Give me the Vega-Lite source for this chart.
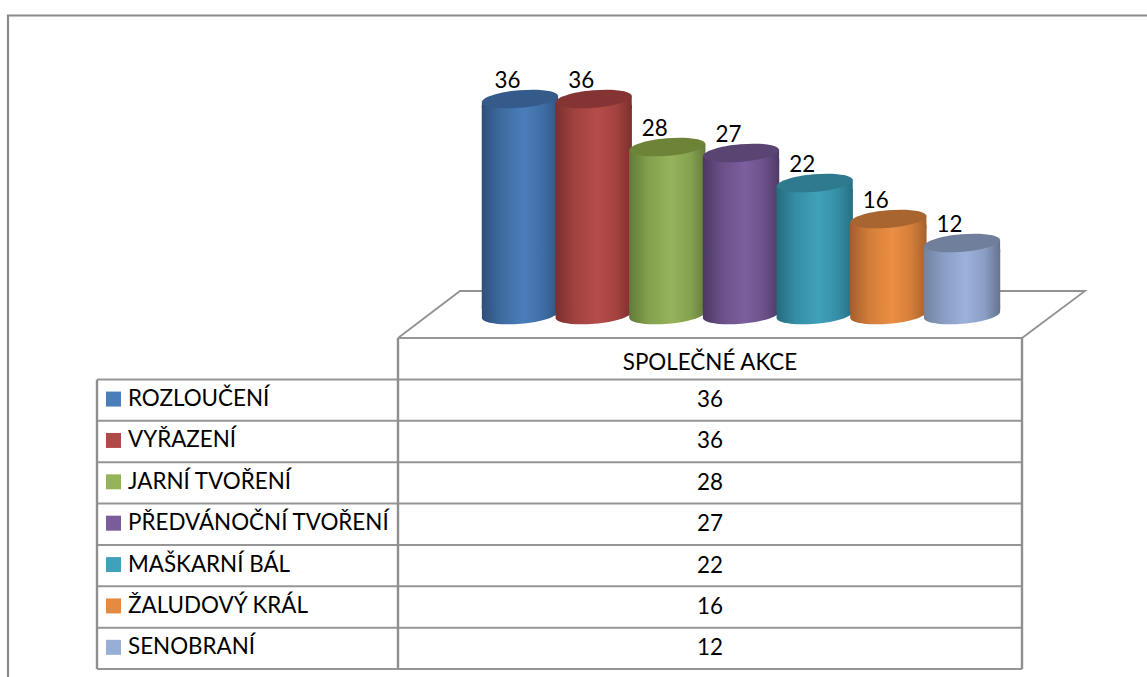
{
"$schema":"https://vega.github.io/schema/vega-lite/v6.json",
"width":1147,"height":677,"padding":0,"autosize":{"type":"none"},
"background":"white",
"config":{"view":{"stroke":null},"text":{"font":"Lato","fontSize":22.4,"fill":"#000000"}},
"datasets":{
"akce":[
{"akce":"ROZLOUČENÍ","pocet":36},
{"akce":"VYŘAZENÍ","pocet":36},
{"akce":"JARNÍ TVOŘENÍ","pocet":28},
{"akce":"PŘEDVÁNOČNÍ TVOŘENÍ","pocet":27},
{"akce":"MAŠKARNÍ BÁL","pocet":22},
{"akce":"ŽALUDOVÝ KRÁL","pocet":16},
{"akce":"SENOBRANÍ","pocet":12}],
"vodorovne":[{"radek":0,"od":1,"do":2},{"radek":1,"od":0,"do":2},{"radek":2,"od":0,"do":2},{"radek":3,"od":0,"do":2},{"radek":4,"od":0,"do":2},{"radek":5,"od":0,"do":2},{"radek":6,"od":0,"do":2},{"radek":7,"od":0,"do":2},{"radek":8,"od":0,"do":2}],
"svisle":[{"sloupec":0,"od":1,"do":8},{"sloupec":1,"od":0,"do":8},{"sloupec":2,"od":0,"do":8}],
"podlaha":[{"poradi":0,"a":0,"b":0},{"poradi":1,"a":1,"b":1},{"poradi":2,"a":3,"b":1},{"poradi":3,"a":2,"b":0},{"poradi":4,"a":0,"b":0}],
"ram":[{"poradi":0,"a":1,"b":0},{"poradi":1,"a":0,"b":0},{"poradi":2,"a":0,"b":1}]
},
"resolve":{"scale":{"x":"independent","y":"independent","fill":"independent","color":"independent"},"axis":{"x":"independent","y":"independent"}},
"layer":[
{"data":{"name":"ram"},"mark":{"type":"line","stroke":"#8a8a8a","strokeWidth":2.2,"clip":false},
"encoding":{"order":{"field":"poradi","type":"quantitative"},
"x":{"field":"a","type":"quantitative","axis":null,"scale":{"domain":[0,1],"range":[8,1147],"nice":false,"zero":false}},
"y":{"field":"b","type":"quantitative","axis":null,"scale":{"domain":[0,1],"range":[15.5,677],"nice":false,"zero":false}}}},
{"data":{"name":"podlaha"},"mark":{"type":"line","stroke":"#929292","strokeWidth":1.8},
"encoding":{"order":{"field":"poradi","type":"quantitative"},
"x":{"field":"a","type":"quantitative","axis":null,"scale":{"domain":[0,1,2,3],"range":[398,460,1022,1085],"nice":false,"zero":false}},
"y":{"field":"b","type":"quantitative","axis":null,"scale":{"domain":[0,1],"range":[338,291],"nice":false,"zero":false}}}},
{"data":{"name":"vodorovne"},"mark":{"type":"rule","stroke":"#969696","strokeWidth":2},
"encoding":{
"x":{"field":"od","type":"quantitative","axis":null,"scale":{"domain":[0,1,2],"range":[97,398,1022],"nice":false,"zero":false}},
"x2":{"field":"do"},
"y":{"field":"radek","type":"quantitative","axis":null,"scale":{"domain":[0,8],"range":[338,669],"nice":false,"zero":false}}}},
{"data":{"name":"svisle"},"mark":{"type":"rule","stroke":"#8f8f8f","strokeWidth":2.4},
"encoding":{
"x":{"field":"sloupec","type":"quantitative","axis":null,"scale":{"domain":[0,1,2],"range":[97,398,1022],"nice":false,"zero":false}},
"y":{"field":"od","type":"quantitative","axis":null,"scale":{"domain":[0,8],"range":[338,669],"nice":false,"zero":false}},
"y2":{"field":"do"}}},
{"data":{"name":"akce"},"transform":[{"filter":"datum.akce==='ROZLOUČENÍ'"}],
"encoding":{"x":{"field":"akce","type":"nominal","axis":null,"scale":{"type":"point","padding":0,"domain":["ROZLOUČENÍ","VYŘAZENÍ","JARNÍ TVOŘENÍ","PŘEDVÁNOČNÍ TVOŘENÍ","MAŠKARNÍ BÁL","ŽALUDOVÝ KRÁL","SENOBRANÍ"],"range":[520,962]}},"y":{"field":"pocet","type":"quantitative","axis":null,"stack":null,"scale":{"domain":[0,36],"range":[315,99],"nice":false,"zero":false}}},
"layer":[
{"mark":{"type":"bar","size":76.5,"yOffset":6,"y2Offset":-6,"fill":{"gradient":"linear","x1":0,"x2":1,"y1":0,"y2":0,"stops":[{"offset":0,"color":"#2c4f7b"},{"offset":0.25,"color":"#3e6b9f"},{"offset":0.55,"color":"#4a7ebb"},{"offset":0.8,"color":"#3f6ea5"},{"offset":1,"color":"#2f5684"}]}},"encoding":{"y2":{"datum":0}}},
{"mark":{"type":"point","filled":true,"opacity":1,"size":5852,"shape":"M-0.996 0.087 A1 0.235 -5 0 0 0.996 -0.087 L0.996 -0.25 L-0.996 -0.25 Z","fill":{"gradient":"linear","x1":0,"x2":1,"y1":0,"y2":0,"stops":[{"offset":0,"color":"#2c4f7b"},{"offset":0.25,"color":"#3e6b9f"},{"offset":0.55,"color":"#4a7ebb"},{"offset":0.8,"color":"#3f6ea5"},{"offset":1,"color":"#2f5684"}]}},"encoding":{"y":{"datum":0,"type":"quantitative","axis":null}}},
{"mark":{"type":"point","filled":true,"opacity":1,"size":5852,"shape":"M-0.996 0.087 L0.996 -0.087 L0.996 0.25 L-0.996 0.25 Z","fill":{"gradient":"linear","x1":0,"x2":1,"y1":0,"y2":0,"stops":[{"offset":0,"color":"#2c4f7b"},{"offset":0.25,"color":"#3e6b9f"},{"offset":0.55,"color":"#4a7ebb"},{"offset":0.8,"color":"#3f6ea5"},{"offset":1,"color":"#2f5684"}]}}},
{"mark":{"type":"point","filled":true,"opacity":1,"size":5852,"shape":"M-0.996 0.087 A1 0.235 -5 0 1 0.996 -0.087 A1 0.235 -5 0 1 -0.996 0.087 Z","fill":"#355b8a"}}
]},
{"data":{"name":"akce"},"transform":[{"filter":"datum.akce==='VYŘAZENÍ'"}],
"encoding":{"x":{"field":"akce","type":"nominal","axis":null,"scale":{"type":"point","padding":0,"domain":["ROZLOUČENÍ","VYŘAZENÍ","JARNÍ TVOŘENÍ","PŘEDVÁNOČNÍ TVOŘENÍ","MAŠKARNÍ BÁL","ŽALUDOVÝ KRÁL","SENOBRANÍ"],"range":[520,962]}},"y":{"field":"pocet","type":"quantitative","axis":null,"stack":null,"scale":{"domain":[0,36],"range":[315,99],"nice":false,"zero":false}}},
"layer":[
{"mark":{"type":"bar","size":76.5,"yOffset":6,"y2Offset":-6,"fill":{"gradient":"linear","x1":0,"x2":1,"y1":0,"y2":0,"stops":[{"offset":0,"color":"#7a2f2e"},{"offset":0.25,"color":"#a04240"},{"offset":0.55,"color":"#b54c4a"},{"offset":0.8,"color":"#a34240"},{"offset":1,"color":"#7b302f"}]}},"encoding":{"y2":{"datum":0}}},
{"mark":{"type":"point","filled":true,"opacity":1,"size":5852,"shape":"M-0.996 0.087 A1 0.235 -5 0 0 0.996 -0.087 L0.996 -0.25 L-0.996 -0.25 Z","fill":{"gradient":"linear","x1":0,"x2":1,"y1":0,"y2":0,"stops":[{"offset":0,"color":"#7a2f2e"},{"offset":0.25,"color":"#a04240"},{"offset":0.55,"color":"#b54c4a"},{"offset":0.8,"color":"#a34240"},{"offset":1,"color":"#7b302f"}]}},"encoding":{"y":{"datum":0,"type":"quantitative","axis":null}}},
{"mark":{"type":"point","filled":true,"opacity":1,"size":5852,"shape":"M-0.996 0.087 L0.996 -0.087 L0.996 0.25 L-0.996 0.25 Z","fill":{"gradient":"linear","x1":0,"x2":1,"y1":0,"y2":0,"stops":[{"offset":0,"color":"#7a2f2e"},{"offset":0.25,"color":"#a04240"},{"offset":0.55,"color":"#b54c4a"},{"offset":0.8,"color":"#a34240"},{"offset":1,"color":"#7b302f"}]}}},
{"mark":{"type":"point","filled":true,"opacity":1,"size":5852,"shape":"M-0.996 0.087 A1 0.235 -5 0 1 0.996 -0.087 A1 0.235 -5 0 1 -0.996 0.087 Z","fill":"#843433"}}
]},
{"data":{"name":"akce"},"transform":[{"filter":"datum.akce==='JARNÍ TVOŘENÍ'"}],
"encoding":{"x":{"field":"akce","type":"nominal","axis":null,"scale":{"type":"point","padding":0,"domain":["ROZLOUČENÍ","VYŘAZENÍ","JARNÍ TVOŘENÍ","PŘEDVÁNOČNÍ TVOŘENÍ","MAŠKARNÍ BÁL","ŽALUDOVÝ KRÁL","SENOBRANÍ"],"range":[520,962]}},"y":{"field":"pocet","type":"quantitative","axis":null,"stack":null,"scale":{"domain":[0,36],"range":[315,99],"nice":false,"zero":false}}},
"layer":[
{"mark":{"type":"bar","size":76.5,"yOffset":6,"y2Offset":-6,"fill":{"gradient":"linear","x1":0,"x2":1,"y1":0,"y2":0,"stops":[{"offset":0,"color":"#627a38"},{"offset":0.25,"color":"#83a04e"},{"offset":0.55,"color":"#95b45a"},{"offset":0.8,"color":"#85a250"},{"offset":1,"color":"#647c3a"}]}},"encoding":{"y2":{"datum":0}}},
{"mark":{"type":"point","filled":true,"opacity":1,"size":5852,"shape":"M-0.996 0.087 A1 0.235 -5 0 0 0.996 -0.087 L0.996 -0.25 L-0.996 -0.25 Z","fill":{"gradient":"linear","x1":0,"x2":1,"y1":0,"y2":0,"stops":[{"offset":0,"color":"#627a38"},{"offset":0.25,"color":"#83a04e"},{"offset":0.55,"color":"#95b45a"},{"offset":0.8,"color":"#85a250"},{"offset":1,"color":"#647c3a"}]}},"encoding":{"y":{"datum":0,"type":"quantitative","axis":null}}},
{"mark":{"type":"point","filled":true,"opacity":1,"size":5852,"shape":"M-0.996 0.087 L0.996 -0.087 L0.996 0.25 L-0.996 0.25 Z","fill":{"gradient":"linear","x1":0,"x2":1,"y1":0,"y2":0,"stops":[{"offset":0,"color":"#627a38"},{"offset":0.25,"color":"#83a04e"},{"offset":0.55,"color":"#95b45a"},{"offset":0.8,"color":"#85a250"},{"offset":1,"color":"#647c3a"}]}}},
{"mark":{"type":"point","filled":true,"opacity":1,"size":5852,"shape":"M-0.996 0.087 A1 0.235 -5 0 1 0.996 -0.087 A1 0.235 -5 0 1 -0.996 0.087 Z","fill":"#6c8338"}}
]},
{"data":{"name":"akce"},"transform":[{"filter":"datum.akce==='PŘEDVÁNOČNÍ TVOŘENÍ'"}],
"encoding":{"x":{"field":"akce","type":"nominal","axis":null,"scale":{"type":"point","padding":0,"domain":["ROZLOUČENÍ","VYŘAZENÍ","JARNÍ TVOŘENÍ","PŘEDVÁNOČNÍ TVOŘENÍ","MAŠKARNÍ BÁL","ŽALUDOVÝ KRÁL","SENOBRANÍ"],"range":[520,962]}},"y":{"field":"pocet","type":"quantitative","axis":null,"stack":null,"scale":{"domain":[0,36],"range":[315,99],"nice":false,"zero":false}}},
"layer":[
{"mark":{"type":"bar","size":76.5,"yOffset":6,"y2Offset":-6,"fill":{"gradient":"linear","x1":0,"x2":1,"y1":0,"y2":0,"stops":[{"offset":0,"color":"#4b3863"},{"offset":0.25,"color":"#6b5088"},{"offset":0.55,"color":"#7c5f9e"},{"offset":0.8,"color":"#6c5189"},{"offset":1,"color":"#4e3a67"}]}},"encoding":{"y2":{"datum":0}}},
{"mark":{"type":"point","filled":true,"opacity":1,"size":5852,"shape":"M-0.996 0.087 A1 0.235 -5 0 0 0.996 -0.087 L0.996 -0.25 L-0.996 -0.25 Z","fill":{"gradient":"linear","x1":0,"x2":1,"y1":0,"y2":0,"stops":[{"offset":0,"color":"#4b3863"},{"offset":0.25,"color":"#6b5088"},{"offset":0.55,"color":"#7c5f9e"},{"offset":0.8,"color":"#6c5189"},{"offset":1,"color":"#4e3a67"}]}},"encoding":{"y":{"datum":0,"type":"quantitative","axis":null}}},
{"mark":{"type":"point","filled":true,"opacity":1,"size":5852,"shape":"M-0.996 0.087 L0.996 -0.087 L0.996 0.25 L-0.996 0.25 Z","fill":{"gradient":"linear","x1":0,"x2":1,"y1":0,"y2":0,"stops":[{"offset":0,"color":"#4b3863"},{"offset":0.25,"color":"#6b5088"},{"offset":0.55,"color":"#7c5f9e"},{"offset":0.8,"color":"#6c5189"},{"offset":1,"color":"#4e3a67"}]}}},
{"mark":{"type":"point","filled":true,"opacity":1,"size":5852,"shape":"M-0.996 0.087 A1 0.235 -5 0 1 0.996 -0.087 A1 0.235 -5 0 1 -0.996 0.087 Z","fill":"#5a4472"}}
]},
{"data":{"name":"akce"},"transform":[{"filter":"datum.akce==='MAŠKARNÍ BÁL'"}],
"encoding":{"x":{"field":"akce","type":"nominal","axis":null,"scale":{"type":"point","padding":0,"domain":["ROZLOUČENÍ","VYŘAZENÍ","JARNÍ TVOŘENÍ","PŘEDVÁNOČNÍ TVOŘENÍ","MAŠKARNÍ BÁL","ŽALUDOVÝ KRÁL","SENOBRANÍ"],"range":[520,962]}},"y":{"field":"pocet","type":"quantitative","axis":null,"stack":null,"scale":{"domain":[0,36],"range":[315,99],"nice":false,"zero":false}}},
"layer":[
{"mark":{"type":"bar","size":76.5,"yOffset":6,"y2Offset":-6,"fill":{"gradient":"linear","x1":0,"x2":1,"y1":0,"y2":0,"stops":[{"offset":0,"color":"#256b7d"},{"offset":0.25,"color":"#348ea5"},{"offset":0.55,"color":"#40a1ba"},{"offset":0.8,"color":"#348fa6"},{"offset":1,"color":"#276f81"}]}},"encoding":{"y2":{"datum":0}}},
{"mark":{"type":"point","filled":true,"opacity":1,"size":5852,"shape":"M-0.996 0.087 A1 0.235 -5 0 0 0.996 -0.087 L0.996 -0.25 L-0.996 -0.25 Z","fill":{"gradient":"linear","x1":0,"x2":1,"y1":0,"y2":0,"stops":[{"offset":0,"color":"#256b7d"},{"offset":0.25,"color":"#348ea5"},{"offset":0.55,"color":"#40a1ba"},{"offset":0.8,"color":"#348fa6"},{"offset":1,"color":"#276f81"}]}},"encoding":{"y":{"datum":0,"type":"quantitative","axis":null}}},
{"mark":{"type":"point","filled":true,"opacity":1,"size":5852,"shape":"M-0.996 0.087 L0.996 -0.087 L0.996 0.25 L-0.996 0.25 Z","fill":{"gradient":"linear","x1":0,"x2":1,"y1":0,"y2":0,"stops":[{"offset":0,"color":"#256b7d"},{"offset":0.25,"color":"#348ea5"},{"offset":0.55,"color":"#40a1ba"},{"offset":0.8,"color":"#348fa6"},{"offset":1,"color":"#276f81"}]}}},
{"mark":{"type":"point","filled":true,"opacity":1,"size":5852,"shape":"M-0.996 0.087 A1 0.235 -5 0 1 0.996 -0.087 A1 0.235 -5 0 1 -0.996 0.087 Z","fill":"#2f7a8c"}}
]},
{"data":{"name":"akce"},"transform":[{"filter":"datum.akce==='ŽALUDOVÝ KRÁL'"}],
"encoding":{"x":{"field":"akce","type":"nominal","axis":null,"scale":{"type":"point","padding":0,"domain":["ROZLOUČENÍ","VYŘAZENÍ","JARNÍ TVOŘENÍ","PŘEDVÁNOČNÍ TVOŘENÍ","MAŠKARNÍ BÁL","ŽALUDOVÝ KRÁL","SENOBRANÍ"],"range":[520,962]}},"y":{"field":"pocet","type":"quantitative","axis":null,"stack":null,"scale":{"domain":[0,36],"range":[315,99],"nice":false,"zero":false}}},
"layer":[
{"mark":{"type":"bar","size":76.5,"yOffset":6,"y2Offset":-6,"fill":{"gradient":"linear","x1":0,"x2":1,"y1":0,"y2":0,"stops":[{"offset":0,"color":"#a35f2a"},{"offset":0.25,"color":"#d27d3a"},{"offset":0.55,"color":"#ec8e43"},{"offset":0.8,"color":"#d47e3a"},{"offset":1,"color":"#a6612b"}]}},"encoding":{"y2":{"datum":0}}},
{"mark":{"type":"point","filled":true,"opacity":1,"size":5852,"shape":"M-0.996 0.087 A1 0.235 -5 0 0 0.996 -0.087 L0.996 -0.25 L-0.996 -0.25 Z","fill":{"gradient":"linear","x1":0,"x2":1,"y1":0,"y2":0,"stops":[{"offset":0,"color":"#a35f2a"},{"offset":0.25,"color":"#d27d3a"},{"offset":0.55,"color":"#ec8e43"},{"offset":0.8,"color":"#d47e3a"},{"offset":1,"color":"#a6612b"}]}},"encoding":{"y":{"datum":0,"type":"quantitative","axis":null}}},
{"mark":{"type":"point","filled":true,"opacity":1,"size":5852,"shape":"M-0.996 0.087 L0.996 -0.087 L0.996 0.25 L-0.996 0.25 Z","fill":{"gradient":"linear","x1":0,"x2":1,"y1":0,"y2":0,"stops":[{"offset":0,"color":"#a35f2a"},{"offset":0.25,"color":"#d27d3a"},{"offset":0.55,"color":"#ec8e43"},{"offset":0.8,"color":"#d47e3a"},{"offset":1,"color":"#a6612b"}]}}},
{"mark":{"type":"point","filled":true,"opacity":1,"size":5852,"shape":"M-0.996 0.087 A1 0.235 -5 0 1 0.996 -0.087 A1 0.235 -5 0 1 -0.996 0.087 Z","fill":"#a9652f"}}
]},
{"data":{"name":"akce"},"transform":[{"filter":"datum.akce==='SENOBRANÍ'"}],
"encoding":{"x":{"field":"akce","type":"nominal","axis":null,"scale":{"type":"point","padding":0,"domain":["ROZLOUČENÍ","VYŘAZENÍ","JARNÍ TVOŘENÍ","PŘEDVÁNOČNÍ TVOŘENÍ","MAŠKARNÍ BÁL","ŽALUDOVÝ KRÁL","SENOBRANÍ"],"range":[520,962]}},"y":{"field":"pocet","type":"quantitative","axis":null,"stack":null,"scale":{"domain":[0,36],"range":[315,99],"nice":false,"zero":false}}},
"layer":[
{"mark":{"type":"bar","size":76.5,"yOffset":6,"y2Offset":-6,"fill":{"gradient":"linear","x1":0,"x2":1,"y1":0,"y2":0,"stops":[{"offset":0,"color":"#72839f"},{"offset":0.25,"color":"#899dc2"},{"offset":0.55,"color":"#9cb2dc"},{"offset":0.8,"color":"#8a9dc3"},{"offset":1,"color":"#64738f"}]}},"encoding":{"y2":{"datum":0}}},
{"mark":{"type":"point","filled":true,"opacity":1,"size":5852,"shape":"M-0.996 0.087 A1 0.235 -5 0 0 0.996 -0.087 L0.996 -0.25 L-0.996 -0.25 Z","fill":{"gradient":"linear","x1":0,"x2":1,"y1":0,"y2":0,"stops":[{"offset":0,"color":"#72839f"},{"offset":0.25,"color":"#899dc2"},{"offset":0.55,"color":"#9cb2dc"},{"offset":0.8,"color":"#8a9dc3"},{"offset":1,"color":"#64738f"}]}},"encoding":{"y":{"datum":0,"type":"quantitative","axis":null}}},
{"mark":{"type":"point","filled":true,"opacity":1,"size":5852,"shape":"M-0.996 0.087 L0.996 -0.087 L0.996 0.25 L-0.996 0.25 Z","fill":{"gradient":"linear","x1":0,"x2":1,"y1":0,"y2":0,"stops":[{"offset":0,"color":"#72839f"},{"offset":0.25,"color":"#899dc2"},{"offset":0.55,"color":"#9cb2dc"},{"offset":0.8,"color":"#8a9dc3"},{"offset":1,"color":"#64738f"}]}}},
{"mark":{"type":"point","filled":true,"opacity":1,"size":5852,"shape":"M-0.996 0.087 A1 0.235 -5 0 1 0.996 -0.087 A1 0.235 -5 0 1 -0.996 0.087 Z","fill":"#707f9b"}}
]},
{"data":{"name":"akce"},"mark":{"type":"text","dx":-12.5,"dy":-18,"baseline":"middle","align":"center"},
"encoding":{
"x":{"field":"akce","type":"nominal","sort":null,"axis":null,"scale":{"type":"point","padding":0,"domain":["ROZLOUČENÍ","VYŘAZENÍ","JARNÍ TVOŘENÍ","PŘEDVÁNOČNÍ TVOŘENÍ","MAŠKARNÍ BÁL","ŽALUDOVÝ KRÁL","SENOBRANÍ"],"range":[520,962]}},
"y":{"field":"pocet","type":"quantitative","axis":null,"scale":{"domain":[0,36],"range":[315,99],"nice":false,"zero":false}},
"text":{"field":"pocet","type":"quantitative"}}},
{"data":{"name":"akce"},"mark":{"type":"point","filled":true,"opacity":1,"shape":"square","size":225,"xOffset":16.5,"yOffset":-1},
"encoding":{
"x":{"datum":0,"type":"quantitative","axis":null,"scale":{"domain":[0,1,2],"range":[97,398,1022],"nice":false,"zero":false}},
"y":{"field":"akce","type":"nominal","sort":null,"axis":null,"scale":{"type":"band","paddingInner":0,"paddingOuter":0,"domain":["SPOLEČNÉ AKCE","ROZLOUČENÍ","VYŘAZENÍ","JARNÍ TVOŘENÍ","PŘEDVÁNOČNÍ TVOŘENÍ","MAŠKARNÍ BÁL","ŽALUDOVÝ KRÁL","SENOBRANÍ"],"range":[338,669]}},
"fill":{"field":"akce","type":"nominal","legend":null,"scale":{"domain":["ROZLOUČENÍ","VYŘAZENÍ","JARNÍ TVOŘENÍ","PŘEDVÁNOČNÍ TVOŘENÍ","MAŠKARNÍ BÁL","ŽALUDOVÝ KRÁL","SENOBRANÍ"],"range":["#4a7ebb","#b04a48","#95b45a","#7a5c9b","#40a1ba","#e58a42","#97aed6"]}}}},
{"data":{"name":"akce"},"mark":{"type":"text","align":"left","baseline":"middle","dx":31,"dy":-1},
"encoding":{
"x":{"datum":0,"type":"quantitative","axis":null,"scale":{"domain":[0,1,2],"range":[97,398,1022],"nice":false,"zero":false}},
"y":{"field":"akce","type":"nominal","sort":null,"axis":null,"scale":{"type":"band","paddingInner":0,"paddingOuter":0,"domain":["SPOLEČNÉ AKCE","ROZLOUČENÍ","VYŘAZENÍ","JARNÍ TVOŘENÍ","PŘEDVÁNOČNÍ TVOŘENÍ","MAŠKARNÍ BÁL","ŽALUDOVÝ KRÁL","SENOBRANÍ"],"range":[338,669]}},
"text":{"field":"akce","type":"nominal"}}},
{"data":{"name":"akce"},"mark":{"type":"text","align":"center","baseline":"middle"},
"encoding":{
"x":{"datum":1.5,"type":"quantitative","axis":null,"scale":{"domain":[0,1,2],"range":[97,398,1022],"nice":false,"zero":false}},
"y":{"field":"akce","type":"nominal","sort":null,"axis":null,"scale":{"type":"band","paddingInner":0,"paddingOuter":0,"domain":["SPOLEČNÉ AKCE","ROZLOUČENÍ","VYŘAZENÍ","JARNÍ TVOŘENÍ","PŘEDVÁNOČNÍ TVOŘENÍ","MAŠKARNÍ BÁL","ŽALUDOVÝ KRÁL","SENOBRANÍ"],"range":[338,669]}},
"text":{"field":"pocet","type":"quantitative"}}},
{"data":{"values":[{"zahlavi":"SPOLEČNÉ AKCE"}]},"mark":{"type":"text","align":"center","baseline":"middle","dy":4},
"encoding":{
"x":{"datum":1.5,"type":"quantitative","axis":null,"scale":{"domain":[0,1,2],"range":[97,398,1022],"nice":false,"zero":false}},
"y":{"field":"zahlavi","type":"nominal","axis":null,"scale":{"type":"band","paddingInner":0,"paddingOuter":0,"domain":["SPOLEČNÉ AKCE","ROZLOUČENÍ","VYŘAZENÍ","JARNÍ TVOŘENÍ","PŘEDVÁNOČNÍ TVOŘENÍ","MAŠKARNÍ BÁL","ŽALUDOVÝ KRÁL","SENOBRANÍ"],"range":[338,669]}},
"text":{"field":"zahlavi","type":"nominal"}}}
]
}
